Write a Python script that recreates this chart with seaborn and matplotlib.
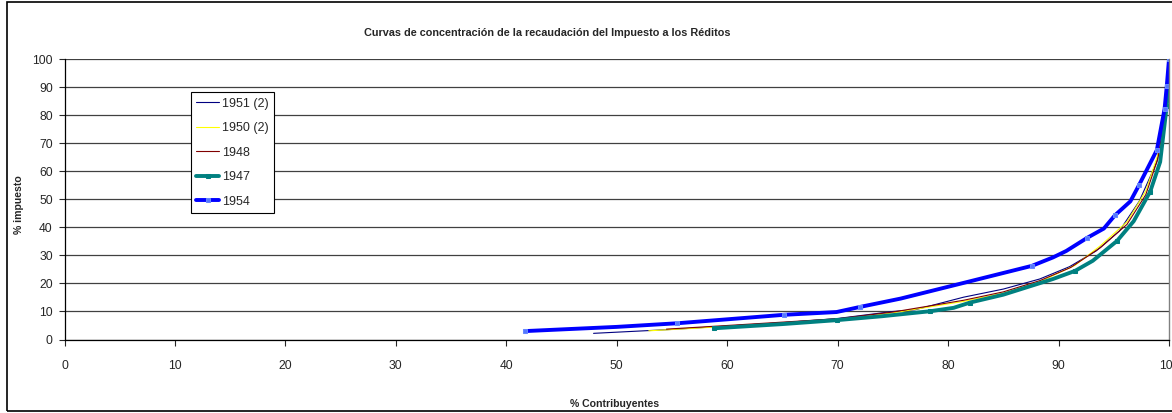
import matplotlib
matplotlib.use("Agg")
import matplotlib.pyplot as plt
import seaborn as sns
import pandas as pd

# % contribuyentes (x) vs % impuesto (y)
x_1951 = [47.9, 55.0, 60.0, 65.0, 70.0, 75.0, 77.0, 81.4, 85.0, 88.3, 91.0, 93.4, 95.5, 97.3, 98.9, 99.6, 100.0]
y_1951 = [2.2, 3.6, 4.8, 6.0, 7.5, 10.0, 10.6, 15.1, 18.0, 21.6, 26.0, 31.6, 38.7, 49.3, 63.4, 80.0, 100.0]

x_1950 = [52.9, 57.0, 60.0, 65.0, 70.0, 75.0, 81.4, 85.0, 88.3, 91.5, 93.8, 96.2, 97.9, 99.0, 99.7, 100.0]
y_1950 = [3.1, 4.0, 4.7, 5.8, 7.0, 9.5, 13.6, 16.6, 20.6, 26.5, 33.5, 42.0, 53.0, 66.0, 81.0, 100.0]

x_1948 = [54.5, 60.0, 65.0, 70.0, 75.0, 81.4, 85.0, 88.3, 91.1, 93.8, 96.2, 97.9, 99.0, 99.7, 100.0]
y_1948 = [3.7, 5.0, 6.2, 7.4, 9.8, 14.0, 17.0, 21.0, 25.7, 32.8, 41.1, 51.7, 64.6, 82.0, 100.0]

x_1947 = [58.8, 65.0, 69.9, 74.0, 78.4, 80.5, 82.0, 85.0, 88.3, 89.5, 91.5, 93.1, 95.3, 96.8, 98.3, 99.2, 99.8, 100.0, 100.0]
y_1947 = [4.0, 5.5, 6.9, 8.3, 10.1, 11.3, 13.2, 16.0, 20.1, 21.6, 24.5, 28.1, 35.2, 42.2, 52.8, 63.4, 83.5, 94.0, 100.0]

x_1954 = [41.7, 45.0, 50.0, 55.5, 60.0, 65.1, 69.9, 72.0, 75.7, 81.1, 87.6, 89.5, 90.7, 92.6, 94.1, 95.1, 96.5, 97.3, 98.9, 99.6, 99.8, 100.0]
y_1954 = [3.0, 3.6, 4.5, 5.8, 7.2, 8.8, 9.8, 11.6, 14.6, 19.9, 26.3, 29.3, 31.6, 36.3, 39.6, 44.3, 49.3, 55.2, 67.6, 82.3, 90.5, 100.0]

years = ["1951 (2)", "1950 (2)", "1948", "1947", "1954"]
xs = [x_1951, x_1950, x_1948, x_1947, x_1954]
ys = [y_1951, y_1950, y_1948, y_1947, y_1954]

styles = {
    "1951 (2)": dict(color="#000080", lw=0.8),
    "1950 (2)": dict(color="#FFFF00", lw=0.8),
    "1948": dict(color="#800000", lw=0.8),
    "1947": dict(color="#008080", lw=2.8, marker="s", ms=3, mfc="#008080", mec="#008080",
                 markevery=[0, 2, 4, 6, 10, 12, 14, 16, 18]),
    "1954": dict(color="#0000FF", lw=2.8, marker="s", ms=3, mfc="#5577FF", mec="#6688FF",
                 markevery=[0, 3, 5, 7, 10, 13, 15, 17, 18, 19, 20, 21]),
}

sns.set_style("white")
plt.rcParams["font.family"] = ["Liberation Sans", "DejaVu Sans"]

W, H = 1172, 413
fig = plt.figure(figsize=(W / 100, H / 100), dpi=100)
x0, x1, y0, y1 = 64.5, 1169, 339.5, 59.3
ax = fig.add_axes([x0 / W, 1 - y0 / H, (x1 - x0) / W, (y0 - y1) / H])

for name, xv, yv in zip(years, xs, ys):
    df = pd.DataFrame({"x": xv, "y": yv})
    sns.lineplot(data=df, x="x", y="y", ax=ax, sort=False, estimator=None,
                 label=name, **styles[name])

ax.set_xlim(0, 100)
ax.set_ylim(0, 100)
ax.set_xticks(range(0, 101, 10))
ax.set_yticks(range(0, 101, 10))
ax.yaxis.grid(True, color="#404040", lw=0.9)
ax.xaxis.grid(False)
ax.set_axisbelow(True)

for s in ["left", "bottom"]:
    ax.spines[s].set_color("black")
    ax.spines[s].set_linewidth(0.9)
ax.spines["top"].set_visible(False)
ax.spines["right"].set_color("#808080")
ax.spines["right"].set_linewidth(1.0)

ax.tick_params(axis="x", direction="out", length=4, width=0.8, pad=11, labelsize=8.7, bottom=True)
ax.tick_params(axis="y", direction="out", length=4.5, width=0.8, pad=4, labelsize=8.7, left=True)

ax.set_xlabel("")
ax.set_ylabel("")
fig.text(615 / W, 1 - 404 / H, "% Contribuyentes", ha="center", va="center",
         fontsize=7.6, fontweight="bold")
fig.text(19 / W, 1 - 205 / H, "% impuesto", ha="center", va="center",
         rotation=90, fontsize=7.6, fontweight="bold")
fig.text(547 / W, 1 - 32.5 / H, "Curvas de concentración de la recaudación del Impuesto a los Réditos",
         ha="center", va="center", fontsize=7.8, fontweight="bold")

leg = ax.legend(loc="lower left",
                bbox_to_anchor=((190.7 - x0) / (x1 - x0), (y0 - 213.3) / (y0 - y1)),
                frameon=True, fancybox=False, edgecolor="black", framealpha=1,
                fontsize=9, handlelength=1.8, handletextpad=0.27, labelspacing=1.0,
                borderpad=0.45, borderaxespad=0)
leg.get_frame().set_linewidth(0.8)

# outer chart border
fig.patches.append(plt.Rectangle((7 / W, 2 / H), 1.2, 1 - 4 / H, transform=fig.transFigure,
                                 fill=False, edgecolor="black", lw=1.2))

fig.savefig("out.png", dpi=100)
